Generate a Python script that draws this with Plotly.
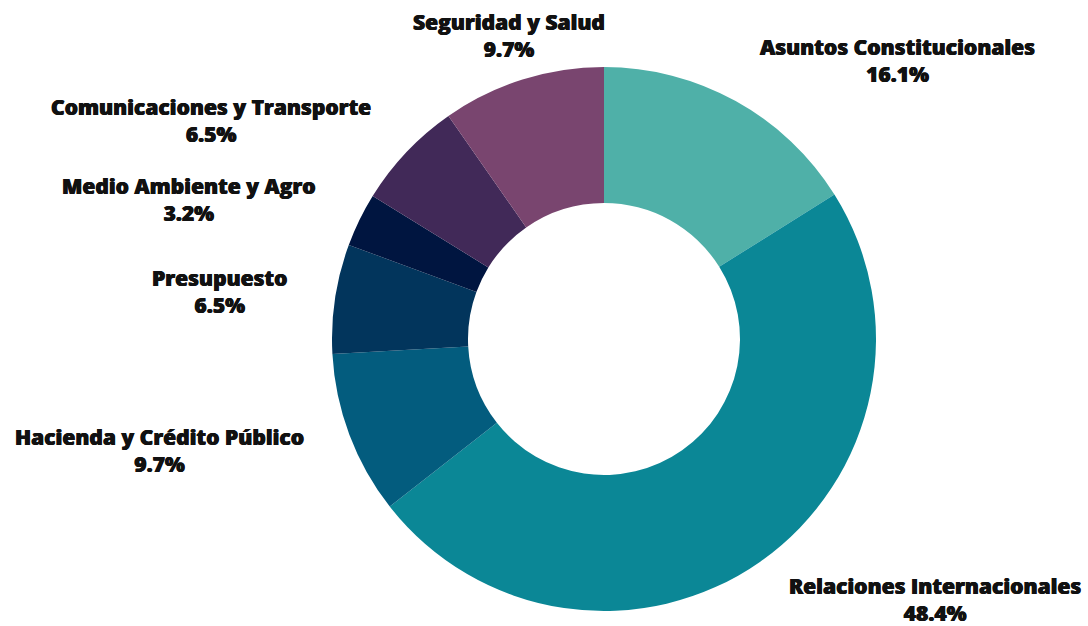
import math

import plotly.graph_objects as go

# data
categories = [
    "Asuntos Constitucionales",
    "Relaciones Internacionales",
    "Hacienda y Crédito Público",
    "Presupuesto",
    "Medio Ambiente y Agro",
    "Comunicaciones y Transporte",
    "Seguridad y Salud",
]
shares = [16.1, 48.4, 9.7, 6.5, 3.2, 6.5, 9.7]
colors = ["#4FB0A8", "#0B8796", "#035C7E", "#02355C", "#001540", "#412958", "#79456F"]

W, H = 1088, 626
CX, CY, R = 604, 339, 272      # donut centre / radius in pixels
LABEL_R = 318                  # radius where label anchors sit
FONT = dict(family="Open Sans", size=21, color="#111111", weight=800,
            shadow="0.4px 0 0 #111111, -0.4px 0 0 #111111")

fig = go.Figure()
fig.add_trace(
    go.Pie(
        labels=categories,
        values=shares,
        hole=0.5,
        sort=False,
        direction="clockwise",
        rotation=0,
        marker=dict(colors=colors, line=dict(width=0)),
        textinfo="none",
        hovertemplate="%{label}<br>%{value}%<extra></extra>",
        domain=dict(x=[(CX - R) / W, (CX + R) / W], y=[1 - (CY + R) / H, 1 - (CY - R) / H]),
        showlegend=False,
    )
)

# labels sit on each slice's mid-angle, outside the ring
annotations = []
total = sum(shares)
cum = 0.0
for name, val in zip(categories, shares):
    mid = (cum + val / 2) / total * 2 * math.pi
    cum += val
    px = CX + LABEL_R * math.sin(mid)
    py = CY - LABEL_R * math.cos(mid)
    s = math.sin(mid)
    anchor = "center" if abs(s) < 0.4 else ("left" if s > 0 else "right")
    annotations.append(dict(
        x=px / W, y=1 - py / H,
        xref="paper", yref="paper",
        text=f"{name}<br>{val:.1f}%",
        showarrow=False,
        xanchor=anchor, yanchor="middle",
        align="center",
        font=FONT,
    ))

fig.update_layout(
    width=W, height=H,
    margin=dict(l=0, r=0, t=0, b=0),
    paper_bgcolor="white",
    plot_bgcolor="white",
    annotations=annotations,
)

fig.write_html("out.html", config={"displayModeBar": False},
               post_script="document.body.style.margin='0';")
